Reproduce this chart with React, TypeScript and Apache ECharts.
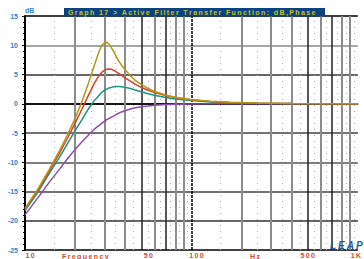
import React, { useEffect, useRef } from 'react';
import * as echarts from 'echarts';

const freqs = [10, 12, 14, 16, 18, 20, 22, 24, 26, 27, 28, 29, 30, 31, 32, 33, 34, 35, 36, 38, 40, 43, 46, 50, 55, 60, 70, 80, 100, 130, 170, 250, 400, 1000];
const gold = [-17.9, -14.5, -11.2, -8.2, -5.3, -2.5, 0.4, 3.4, 6.4, 7.8, 9.1, 10.0, 10.4, 10.5, 10.2, 9.6, 9.0, 8.3, 7.6, 6.6, 5.8, 4.8, 4.0, 3.3, 2.6, 2.1, 1.5, 1.1, 0.7, 0.42, 0.24, 0.11, 0.05, 0.01];
const red = [-18.0, -14.7, -11.5, -8.6, -5.9, -3.3, -0.9, 1.4, 3.4, 4.2, 4.9, 5.4, 5.7, 5.9, 5.95, 5.9, 5.75, 5.55, 5.3, 4.85, 4.4, 3.85, 3.3, 2.8, 2.3, 1.9, 1.4, 1.05, 0.68, 0.4, 0.23, 0.1, 0.04, 0.01];
const teal = [-18.3, -15.0, -11.9, -9.3, -6.8, -4.6, -2.7, -0.9, 0.5, 1.0, 1.5, 2.0, 2.3, 2.5, 2.7, 2.8, 2.9, 2.95, 2.97, 2.9, 2.8, 2.6, 2.35, 2.05, 1.7, 1.45, 1.08, 0.82, 0.54, 0.32, 0.18, 0.09, 0.035, 0.01];
const purple = [-19.0, -16.0, -13.4, -11.3, -9.4, -7.8, -6.5, -5.4, -4.4, -4.0, -3.7, -3.3, -3.0, -2.7, -2.5, -2.3, -2.1, -1.9, -1.7, -1.4, -1.2, -0.9, -0.7, -0.5, -0.4, -0.26, -0.14, -0.09, -0.04, -0.01, 0, 0, 0, 0];

const xTickValues = [10, 50, 100, 500, 1000];
const xTickLabels = ['10', '50', '100', '500', '1K'];
const grayGrid = [20, 30, 40, 60, 80, 90, 200, 300, 400, 600, 800, 900];
const blackGrid = [50, 70, 500, 700];
const dashedGrid = [100];
const minorGrid = [15, 25, 35, 45, 55, 65, 75, 85, 95, 150, 250, 350, 450, 550, 650, 750, 850, 950];

const titleText = 'Graph 17 > Active Filter Transfer Function: dB,Phase';
const xAxisWord = 'Frequency';
const xUnitWord = 'Hz';
const yUnit = 'dB';
const logoText = 'LEAP';

const spaced = (s: string) => s.split('').join('\u2009');

export default function App() {
  const ref = useRef<HTMLDivElement>(null);
  useEffect(() => {
    if (!ref.current) return;
    const chart = echarts.init(ref.current, undefined, { renderer: 'svg' });
    const mk = (data: number[], color: string) => ({
      type: 'line',
      data: freqs.map((f, i) => [f, data[i]]),
      showSymbol: false,
      symbol: 'none',
      smooth: false,
      silent: true,
      z: 5,
      lineStyle: { color, width: 1.5 },
    });
    const nudges: Record<string, number[]> = {
      '10': [0, 0, 0, 10],
      '50': [0, 0, 0, 14],
      '100': [0, 0, 0, 10],
      '500': [0, 0, 0, 0],
      '1K': [0, 4, 0, 0],
    };
    const rich: any = {};
    xTickLabels.forEach((l, i) => {
      rich['t' + i] = {
        color: '#d8472c',
        fontSize: 7,
        fontWeight: 'bold',
        fontFamily: 'Liberation Sans',
        padding: nudges[l],
      };
    });
    const option: any = {
      animation: false,
      backgroundColor: '#ffffff',
      grid: { left: 25, top: 16, width: 340, height: 235 },
      xAxis: {
        type: 'log',
        logBase: 10,
        min: 10,
        max: 1000,
        axisLine: { show: true, lineStyle: { color: '#000', width: 1.5 } },
        axisTick: { show: false },
        splitLine: { show: false },
        minorTick: { show: false },
        axisLabel: {
          customValues: xTickValues,
          margin: 2,
          formatter: (v: number) => {
            const i = xTickValues.findIndex((t) => Math.abs(t - v) < 1e-6 * t);
            if (i < 0) return '';
            return '{t' + i + '|' + spaced(xTickLabels[i]) + '}';
          },
          rich,
        },
      },
      yAxis: {
        type: 'value',
        min: -25,
        max: 15,
        interval: 5,
        name: yUnit,
        nameLocation: 'end',
        nameGap: 2,
        nameTextStyle: { color: '#2f86c8', fontSize: 7, fontWeight: 'bold', align: 'left', fontFamily: 'Liberation Sans' },
        axisLine: { show: true, lineStyle: { color: '#000', width: 2 } },
        axisTick: { show: true, length: 3, lineStyle: { color: '#000', width: 1 } },
        minorTick: { show: true, splitNumber: 5, length: 2, lineStyle: { color: '#000', width: 1 } },
        axisLabel: { color: '#2f86c8', fontSize: 7, fontWeight: 'bold', margin: 7, fontFamily: 'Liberation Sans' },
        splitLine: {
          show: true,
          lineStyle: { color: ['#000', '#333', '#444', '#555', '#444', '#222', '#333', '#888', '#000'], width: 1.5 },
        },
      },
      series: [
        {
          type: 'line',
          data: [],
          silent: true,
          z: 1,
          markLine: {
            symbol: 'none',
            silent: true,
            animation: false,
            label: { show: false },
            data: [
              ...minorGrid.map((v) => ({ xAxis: v, lineStyle: { color: '#b0b0b0', type: [1, 5], width: 1 } })),
              ...grayGrid.map((v) => ({ xAxis: v, lineStyle: { color: '#8c8c8c', type: 'solid', width: 2 } })),
              ...blackGrid.map((v) => ({ xAxis: v, lineStyle: { color: '#222', type: 'solid', width: 1.5 } })),
              ...dashedGrid.map((v) => ({ xAxis: v, lineStyle: { color: '#000', type: [3, 1], width: 1.5 } })),
            ],
          },
        },
        mk(purple, '#8a4ea6'),
        mk(teal, '#16967a'),
        mk(red, '#d8402a'),
        mk(gold, '#b8960e'),
      ],
      graphic: [
        { type: 'rect', left: 64, top: 8, shape: { width: 261, height: 8.5 }, style: { fill: '#0b4382' }, z: 10 },
        {
          type: 'text', left: 68, top: 8.5, z: 11,
          style: { text: spaced(titleText), fill: '#c4c22a', font: 'bold 7px "Liberation Sans"' },
        },
        {
          type: 'text', left: 62, top: 252.5, z: 11,
          style: { text: spaced(xAxisWord), fill: '#d8472c', font: 'bold 7px "Liberation Sans"' },
        },
        {
          type: 'text', left: 250, top: 252.5, z: 11,
          style: { text: spaced(xUnitWord), fill: '#d8472c', font: 'bold 7px "Liberation Sans"' },
        },
        {
          type: 'text', left: 330, top: 240, z: 11,
          style: { text: spaced(logoText), fill: '#1d5ea6', font: 'italic bold 10px "Liberation Sans"' },
        },
      ],
    };
    chart.setOption(option);
    return () => chart.dispose();
  }, []);
  return <div ref={ref} style={{ position: 'fixed', left: 0, top: 0, width: 364, height: 259, background: '#fff' }} />;
}
